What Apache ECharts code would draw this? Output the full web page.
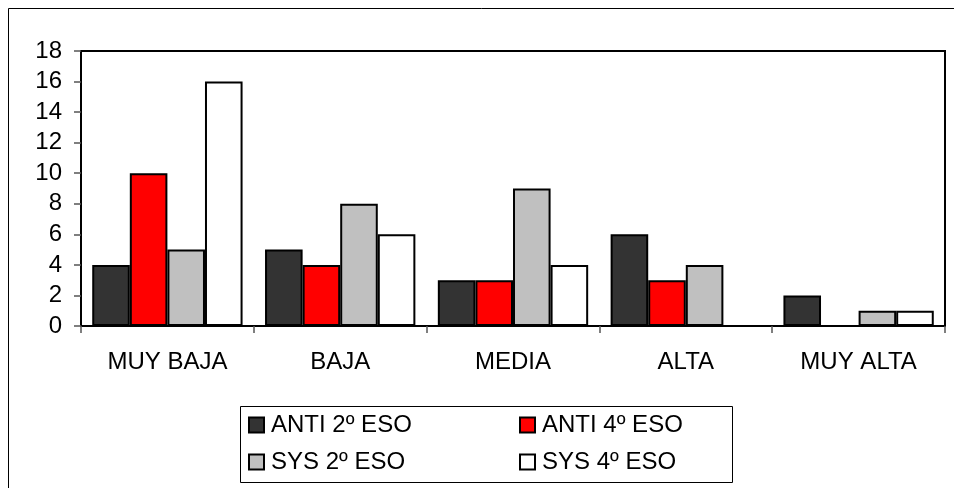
<!DOCTYPE html>
<html>
<head>
<meta charset="utf-8">
<script src="https://cdn.jsdelivr.net/npm/echarts@6/dist/echarts.min.js"></script>
<style>
  html, body { margin: 0; padding: 0; background: #fff; }
  #chart { width: 954px; height: 488px; }
</style>
</head>
<body>
<div id="chart"></div>
<script>
// Categories on the x axis
const categories = ['MUY BAJA', 'BAJA', 'MEDIA', 'ALTA', 'MUY ALTA'];

// Series values, one array per group
const anti2 = [4, 5, 3, 6, 2];
const anti4 = [10, 4, 3, 3, 0];
const sys2 = [5, 8, 9, 4, 1];
const sys4 = [16, 6, 4, 0, 1];

const seriesNames = ['ANTI 2º ESO', 'ANTI 4º ESO', 'SYS 2º ESO', 'SYS 4º ESO'];
const seriesData = [anti2, anti4, sys2, sys4];
const seriesColors = ['#333333', '#ff0000', '#c0c0c0', '#ffffff'];

const FONT = 'Liberation Sans, Arial, sans-serif';
const FS = 24;

const chart = echarts.init(document.getElementById('chart'), null, { renderer: 'canvas' });

// one legend component per entry, laid out as a 2x2 block
const legendPos = [
  { left: 248, top: 413 },
  { left: 519, top: 413 },
  { left: 248, top: 450 },
  { left: 519, top: 450 }
];
const legends = seriesNames.map((name, i) => ({
  data: [name],
  left: legendPos[i].left,
  top: legendPos[i].top,
  padding: 0,
  icon: 'rect',
  itemWidth: 15,
  itemHeight: 15,
  textStyle: { fontFamily: FONT, fontSize: FS, color: '#000', lineHeight: 24, padding: [0, 0, 0, 2] },
  selectedMode: false
}));

chart.setOption({
  animation: false,
  backgroundColor: '#fff',
  graphic: [
    {
      type: 'rect',
      shape: { x: 8.5, y: 8.5, width: 960, height: 500 },
      style: { fill: 'none', stroke: '#000', lineWidth: 1 },
      silent: true
    },
    {
      type: 'rect',
      shape: { x: 240.5, y: 406.5, width: 492, height: 76 },
      style: { fill: 'none', stroke: '#000', lineWidth: 1 },
      silent: true
    }
  ],
  legend: legends,
  grid: {
    left: 81, right: 9, top: 51, bottom: 162,
    show: true, borderColor: '#000', borderWidth: 2, backgroundColor: '#fff'
  },
  xAxis: {
    type: 'category',
    data: categories,
    axisLine: { lineStyle: { color: '#000', width: 2 } },
    axisTick: { show: true, alignWithLabel: false, length: 7, lineStyle: { color: '#555', width: 1.5 } },
    axisLabel: { fontFamily: FONT, fontSize: FS, color: '#000', margin: 24 }
  },
  yAxis: {
    type: 'value',
    min: 0, max: 18, interval: 2,
    splitLine: { show: false },
    axisLine: { show: true, lineStyle: { color: '#000', width: 2 } },
    axisTick: { show: true, length: 7, lineStyle: { color: '#555', width: 1.5 } },
    axisLabel: { fontFamily: FONT, fontSize: FS, color: '#000', margin: 19 }
  },
  series: seriesNames.map((name, i) => ({
    name: name,
    type: 'bar',
    data: seriesData[i],
    barGap: '0%',
    barCategoryGap: '13%',
    itemStyle: { color: seriesColors[i], borderColor: '#000', borderWidth: 2 }
  }))
});
</script>
</body>
</html>
